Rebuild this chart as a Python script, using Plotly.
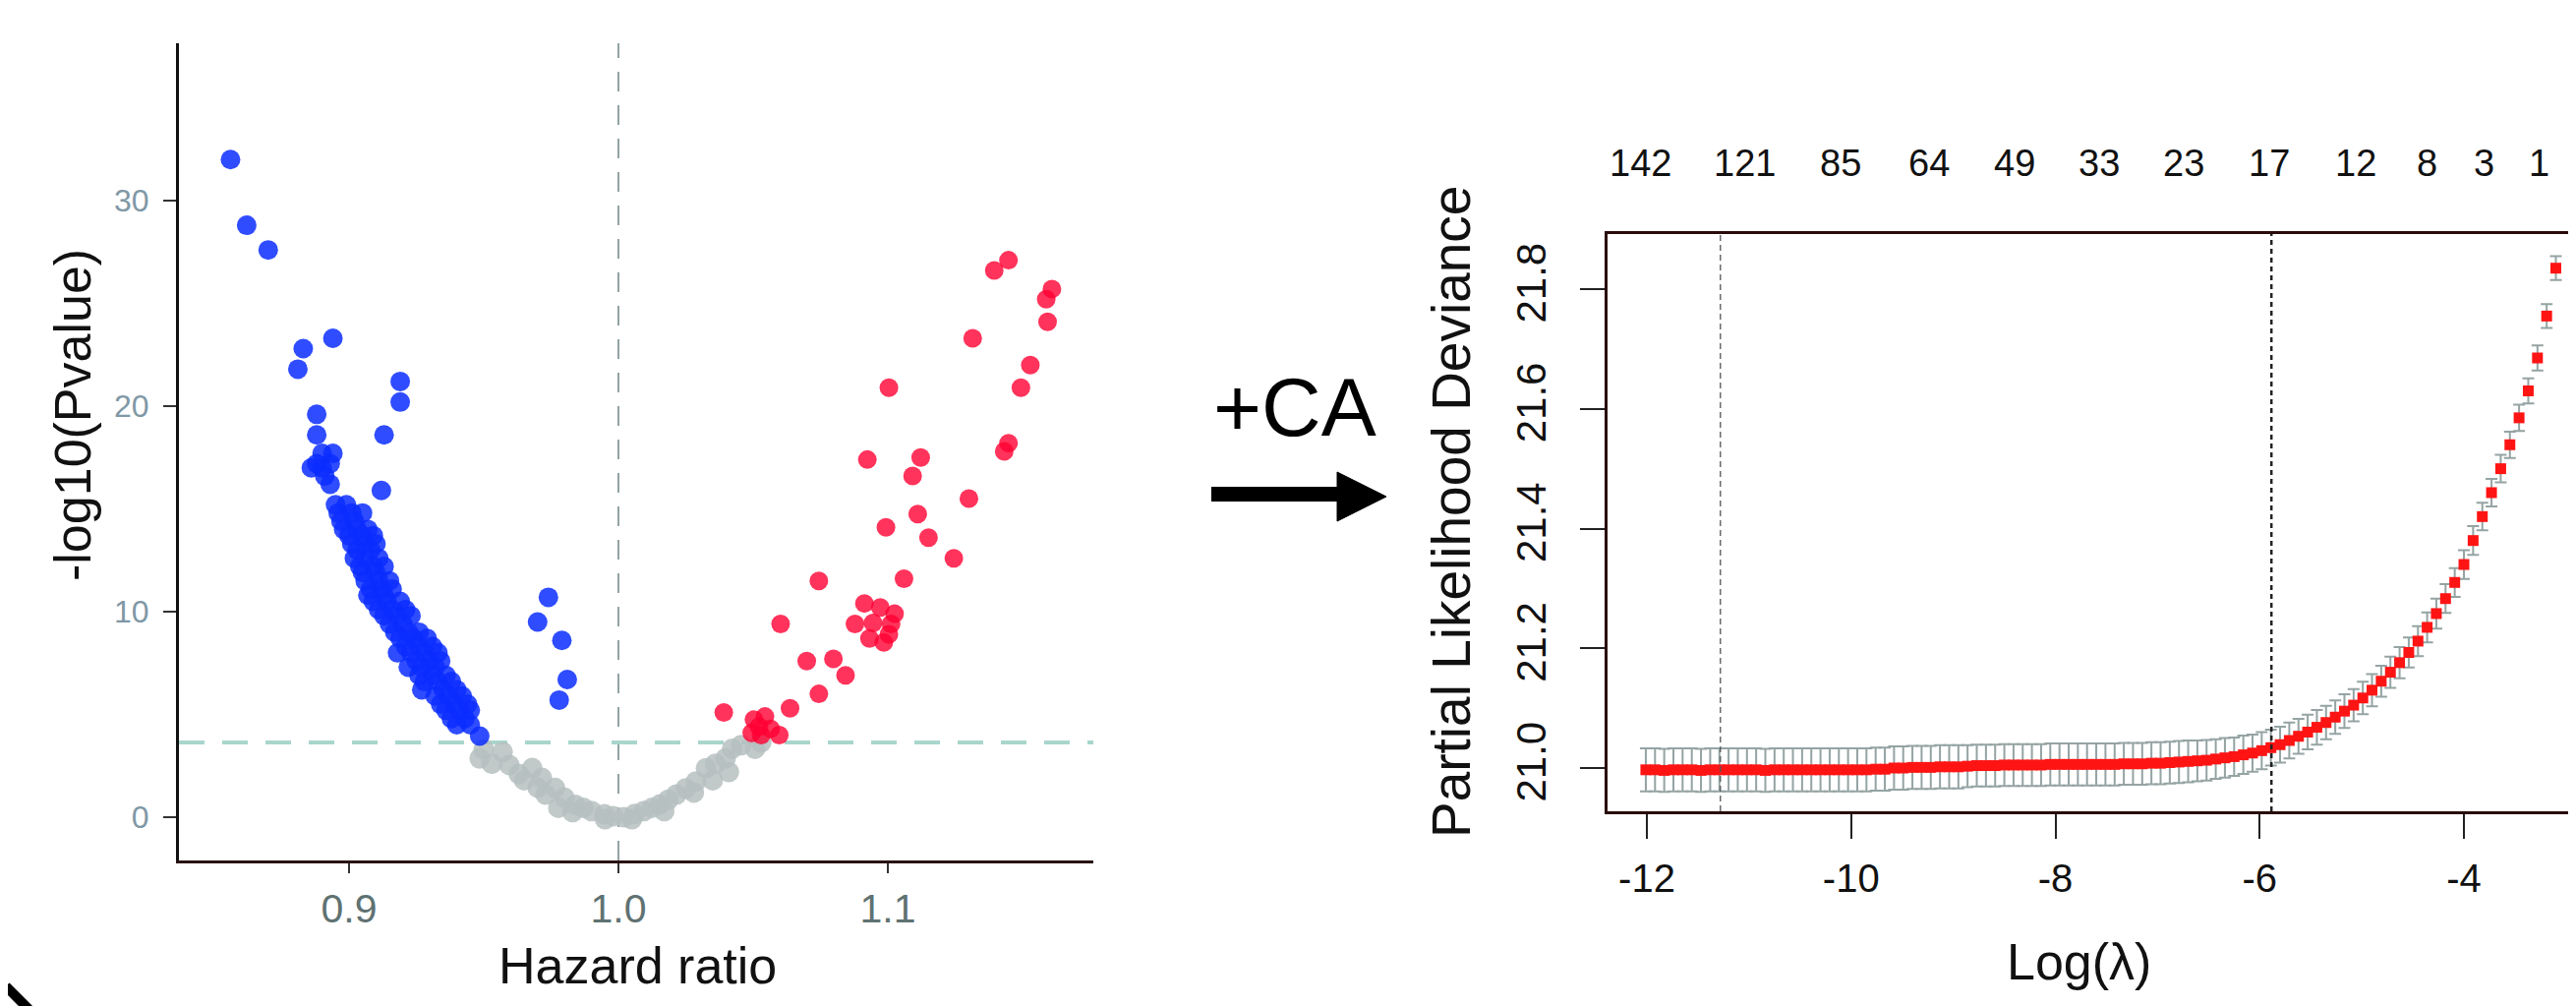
import plotly.graph_objects as go

W, H = 2620, 1023

# ---------------- Left: volcano plot data ----------------
blue_hr = [0.856, 0.862, 0.870, 0.883, 0.894, 0.881, 0.919, 0.919, 0.888, 0.888,
           0.913, 0.890, 0.894, 0.886, 0.890, 0.893, 0.891, 0.893, 0.888, 0.912,
           0.974, 0.970, 0.979, 0.981, 0.978, 0.9485,
           0.895, 0.899,
           0.896, 0.901, 0.905,
           0.897, 0.902,
           0.898, 0.903, 0.907,
           0.900, 0.905, 0.909,
           0.901, 0.906, 0.910,
           0.903, 0.908,
           0.902, 0.906, 0.911,
           0.904, 0.909, 0.913,
           0.905, 0.910,
           0.906, 0.911, 0.915,
           0.908, 0.912, 0.916,
           0.907, 0.913,
           0.909, 0.914, 0.919,
           0.911, 0.916, 0.921,
           0.913, 0.918, 0.923,
           0.915, 0.920,
           0.917, 0.922, 0.926,
           0.919, 0.924, 0.929,
           0.921, 0.926, 0.931,
           0.918, 0.923, 0.928, 0.933,
           0.925, 0.930, 0.934,
           0.922, 0.927, 0.932,
           0.926, 0.931, 0.936,
           0.928, 0.933, 0.938,
           0.927, 0.935, 0.940,
           0.932, 0.937, 0.942,
           0.934, 0.939, 0.944,
           0.936, 0.941, 0.945,
           0.938, 0.943,
           0.940, 0.945]
blue_p = [32.0, 28.8, 27.6, 22.8, 23.3, 21.8, 21.2, 20.2, 19.6, 18.6,
          18.6, 17.7, 17.7, 17.0, 17.0, 17.2, 16.6, 16.2, 17.2, 15.9,
          10.7, 9.5, 8.6, 6.7, 5.7, 3.95,
          15.2, 15.2,
          14.8, 14.8, 14.8,
          14.4, 14.4,
          14.0, 14.0, 14.0,
          13.7, 13.7, 13.7,
          13.3, 13.3, 13.3,
          13.0, 13.0,
          12.6, 12.6, 12.6,
          12.2, 12.2, 12.2,
          11.9, 11.9,
          11.5, 11.5, 11.5,
          11.1, 11.1, 11.1,
          10.8, 10.8,
          10.5, 10.5, 10.5,
          10.1, 10.1, 10.1,
          9.8, 9.8, 9.8,
          9.4, 9.4,
          9.0, 9.0, 9.0,
          8.7, 8.7, 8.7,
          8.3, 8.3, 8.3,
          8.0, 8.0, 8.0, 8.0,
          7.6, 7.6, 7.6,
          7.3, 7.3, 7.3,
          6.9, 6.9, 6.9,
          6.6, 6.6, 6.6,
          6.2, 6.2, 6.2,
          5.9, 5.9, 5.9,
          5.5, 5.5, 5.5,
          5.2, 5.2, 5.2,
          4.8, 4.8,
          4.5, 4.5]

red_hr = [1.1395, 1.1448, 1.1588, 1.1609, 1.1593, 1.1315, 1.1529, 1.1494, 1.1004, 1.1448,
          1.1432, 1.0924, 1.1122, 1.1092, 1.1301, 1.1111, 1.0993, 1.1151, 1.1245, 1.0744,
          1.1060, 1.0913, 1.0878, 1.0932, 1.0985, 1.1012, 1.1025, 1.0972, 1.1004, 1.0945,
          1.0602, 1.0699, 1.0798, 1.0843, 1.0744, 1.0391, 1.0637,
          1.0503, 1.0522, 1.0544, 1.0565, 1.0530, 1.0597, 1.0495]
red_p = [26.6, 27.1, 25.2, 25.7, 24.1, 23.3, 22.0, 20.9, 20.9, 18.2,
         17.8, 17.4, 17.5, 16.6, 15.5, 14.75, 14.1, 13.6, 12.6, 11.5,
         11.6, 10.4, 9.4, 8.7, 8.5, 9.4, 9.9, 10.2, 8.9, 9.45,
         9.4, 7.6, 7.7, 6.9, 6.0, 5.1, 5.3,
         4.75, 4.4, 4.9, 4.3, 4.0, 4.0, 4.1]

grey_hr = [0.950, 0.9485, 0.957, 0.9595, 0.963, 0.968, 0.970, 0.9716, 0.9765, 0.980,
           0.9777, 0.984, 0.987, 0.990, 0.9948, 0.998, 1.002, 1.006, 1.0094, 1.0125,
           1.0154, 1.0185, 1.0215, 1.025, 1.0288, 1.0325, 1.036, 1.0398, 1.041, 1.0422,
           1.0455, 1.0507, 1.053, 0.953, 0.965, 0.973, 0.983, 0.995, 1.005, 1.017,
           1.028, 1.035]
grey_p = [3.3, 2.86, 3.17, 2.54, 2.1, 2.39, 1.44, 1.91, 1.42, 0.94,
          0.46, 0.6, 0.45, 0.30, 0.14, 0.05, 0.0, 0.15, 0.3, 0.45,
          0.62, 0.85, 1.1, 1.4, 1.74, 2.38, 2.6, 2.86, 2.2, 3.33,
          3.5, 3.33, 3.65, 2.6, 1.8, 1.1, 0.25, -0.1, -0.1, 0.3,
          1.2, 1.8]

hr_ref = 1.0
p_threshold = 3.64
volcano_xticks = [0.9, 1.0, 1.1]
volcano_xtext = ["0.9", "1.0", "1.1"]
volcano_yticks = [0, 10, 20, 30]
volcano_ytext = ["0", "10", "20", "30"]

# ---------------- Right: cv.glmnet curve data ----------------
log_lambda = [-12.01, -11.92, -11.83, -11.74, -11.65, -11.56, -11.47, -11.38, -11.29, -11.20,
              -11.11, -11.02, -10.93, -10.84, -10.75, -10.66, -10.57, -10.48, -10.39, -10.30,
              -10.21, -10.12, -10.03, -9.94, -9.85, -9.76, -9.67, -9.58, -9.49, -9.40,
              -9.31, -9.22, -9.13, -9.04, -8.95, -8.86, -8.77, -8.68, -8.59, -8.50,
              -8.41, -8.32, -8.23, -8.14, -8.05, -7.96, -7.87, -7.78, -7.69, -7.60,
              -7.51, -7.42, -7.33, -7.24, -7.15, -7.06, -6.97, -6.88, -6.79, -6.70,
              -6.61, -6.52, -6.43, -6.34, -6.25, -6.16, -6.07, -5.98, -5.89, -5.80,
              -5.71, -5.62, -5.53, -5.44, -5.35, -5.26, -5.17, -5.08, -4.99, -4.90,
              -4.81, -4.72, -4.63, -4.54, -4.45, -4.36, -4.27, -4.18, -4.09, -4.00,
              -3.91, -3.82, -3.73, -3.64, -3.55, -3.46, -3.37, -3.28, -3.19, -3.10]
deviance = [20.997, 20.997, 20.996, 20.997, 20.997, 20.997, 20.996, 20.997, 20.997, 20.997,
            20.997, 20.997, 20.997, 20.996, 20.997, 20.997, 20.997, 20.997, 20.997, 20.997,
            20.997, 20.997, 20.997, 20.997, 20.997, 20.998, 20.998, 21.000, 21.000, 21.001,
            21.001, 21.001, 21.002, 21.002, 21.002, 21.003, 21.004, 21.004, 21.004, 21.005,
            21.005, 21.005, 21.005, 21.005, 21.006, 21.006, 21.006, 21.006, 21.006, 21.006,
            21.006, 21.006, 21.007, 21.007, 21.007, 21.008, 21.008, 21.009, 21.010, 21.011,
            21.012, 21.013, 21.015, 21.017, 21.019, 21.022, 21.025, 21.029, 21.034, 21.039,
            21.046, 21.053, 21.060, 21.068, 21.076, 21.085, 21.095, 21.105, 21.117, 21.130,
            21.145, 21.160, 21.176, 21.193, 21.212, 21.235, 21.258, 21.283, 21.310, 21.340,
            21.380, 21.420, 21.460, 21.500, 21.540, 21.585, 21.630, 21.685, 21.755, 21.835]
deviance_se = [0.036, 0.036, 0.036, 0.036, 0.036, 0.036, 0.036, 0.036, 0.036, 0.036,
               0.036, 0.036, 0.036, 0.036, 0.036, 0.036, 0.036, 0.036, 0.036, 0.036,
               0.036, 0.036, 0.036, 0.036, 0.036, 0.036, 0.036, 0.036, 0.036, 0.036,
               0.036, 0.036, 0.036, 0.036, 0.036, 0.035, 0.035, 0.035, 0.035, 0.035,
               0.035, 0.035, 0.035, 0.035, 0.035, 0.035, 0.035, 0.035, 0.035, 0.035,
               0.035, 0.035, 0.035, 0.035, 0.035, 0.035, 0.035, 0.035, 0.035, 0.035,
               0.034, 0.034, 0.033, 0.033, 0.032, 0.032, 0.031, 0.031, 0.030, 0.030,
               0.030, 0.029, 0.029, 0.029, 0.028, 0.028, 0.028, 0.027, 0.027, 0.027,
               0.026, 0.026, 0.026, 0.025, 0.025, 0.025, 0.025, 0.024, 0.024, 0.024,
               0.024, 0.023, 0.023, 0.023, 0.022, 0.022, 0.021, 0.021, 0.020, 0.020]

lambda_min = -11.28
lambda_1se = -5.885
nz_positions = [-12.06, -11.04, -10.10, -9.24, -8.40, -7.57, -6.74, -5.91, -5.06, -4.36, -3.80, -3.26]
nz_labels = ["142", "121", "85", "64", "49", "33", "23", "17", "12", "8", "3", "1"]
cv_xticks = [-12, -10, -8, -6, -4]
cv_xtext = ["-12", "-10", "-8", "-6", "-4"]
cv_yticks = [21.0, 21.2, 21.4, 21.6, 21.8]
cv_ytext = ["21.0", "21.2", "21.4", "21.6", "21.8"]

FONT = "Liberation Sans, Arial, Helvetica, sans-serif"

def px_x(p):
    return p / W

def px_y(p):
    return 1 - p / H

fig = go.Figure()

# volcano points
fig.add_trace(go.Scatter(x=grey_hr, y=grey_p, mode="markers", xaxis="x", yaxis="y",
                         marker=dict(size=21, color="rgba(182,192,192,0.85)", line=dict(width=0)),
                         showlegend=False, hoverinfo="skip"))
fig.add_trace(go.Scatter(x=blue_hr, y=blue_p, mode="markers", xaxis="x", yaxis="y",
                         marker=dict(size=20, color="rgba(10,45,255,0.85)", line=dict(width=0)),
                         showlegend=False, hoverinfo="skip"))
fig.add_trace(go.Scatter(x=red_hr, y=red_p, mode="markers", xaxis="x", yaxis="y",
                         marker=dict(size=19, color="rgba(255,0,50,0.8)", line=dict(width=0)),
                         showlegend=False, hoverinfo="skip"))

# cv curve
fig.add_trace(go.Scatter(x=log_lambda, y=deviance, mode="markers", xaxis="x2", yaxis="y2",
                         marker=dict(symbol="square", size=11, color="#ff1414", line=dict(width=0)),
                         error_y=dict(type="data", array=deviance_se, visible=True,
                                      color="#95a3a3", thickness=2, width=6),
                         showlegend=False, hoverinfo="skip"))

shapes = [
    # volcano reference lines
    dict(type="line", xref="x", yref="y domain", x0=hr_ref, x1=hr_ref, y0=0, y1=1,
         line=dict(color="#93a3a3", width=2, dash="20px,14px"), layer="below"),
    dict(type="line", xref="x domain", yref="y", x0=0, x1=1, y0=p_threshold, y1=p_threshold,
         line=dict(color="#a9d6cc", width=4, dash="26px,18px"), layer="below"),
    # cv vertical lines
    dict(type="line", xref="x2", yref="y2 domain", x0=lambda_min, x1=lambda_min, y0=0, y1=1,
         line=dict(color="#555555", width=1.3, dash="6px,4px")),
    dict(type="line", xref="x2", yref="y2 domain", x0=lambda_1se, x1=lambda_1se, y0=0, y1=1,
         line=dict(color="#222222", width=2.5, dash="5px,4px")),
    # arrow shaft and head
    dict(type="line", xref="paper", yref="paper", x0=px_x(1224), x1=px_x(1360),
         y0=px_y(494.5), y1=px_y(494.5), line=dict(color="black", width=15)),
    dict(type="path", xref="paper", yref="paper",
         path="M {} {} L {} {} L {} {} Z".format(px_x(1352), px_y(472), px_x(1402), px_y(497),
                                                px_x(1352), px_y(522)),
         fillcolor="black", line=dict(color="black", width=1)),
    # partial stroke at bottom-left corner
    dict(type="line", xref="paper", yref="paper", x0=px_x(-2), x1=px_x(28),
         y0=px_y(995), y1=px_y(1025), line=dict(color="black", width=10)),
]

annotations = [
    dict(text="-log10(Pvalue)", xref="paper", yref="paper", x=px_x(66), y=px_y(414),
         textangle=-90, showarrow=False, xanchor="center", yanchor="middle",
         font=dict(family=FONT, size=52, color="#111111")),
    dict(text="Hazard ratio", xref="paper", yref="paper", x=px_x(640), y=px_y(974),
         showarrow=False, xanchor="center", yanchor="middle",
         font=dict(family=FONT, size=52, color="#111111")),
    dict(text="+CA", xref="paper", yref="paper", x=px_x(1309), y=px_y(406),
         showarrow=False, xanchor="center", yanchor="middle",
         font=dict(family=FONT, size=84, color="#000000")),
    dict(text="Partial Likelihood Deviance", xref="paper", yref="paper", x=px_x(1468), y=px_y(512),
         textangle=-90, showarrow=False, xanchor="center", yanchor="middle",
         font=dict(family=FONT, size=55, color="#111111")),
    dict(text="Log(λ)", xref="paper", yref="paper", x=px_x(2106), y=px_y(970),
         showarrow=False, xanchor="center", yanchor="middle",
         font=dict(family=FONT, size=52, color="#111111")),
]
for pos, lab in zip(nz_positions, nz_labels):
    annotations.append(dict(text=lab, xref="x2", yref="paper", x=pos, y=px_y(158),
                            showarrow=False, xanchor="center", yanchor="middle",
                            font=dict(family=FONT, size=38, color="#111111")))

fig.update_layout(
    width=W, height=H,
    margin=dict(l=0, r=0, t=0, b=0),
    paper_bgcolor="white", plot_bgcolor="white",
    showlegend=False,
    shapes=shapes,
    annotations=annotations,
    xaxis=dict(domain=[px_x(174), px_x(1104)], range=[0.83686, 1.17628],
               tickmode="array", tickvals=volcano_xticks, ticktext=volcano_xtext,
               showgrid=False, zeroline=False, showline=True, linecolor="#2a1212", linewidth=3,
               ticks="outside", ticklen=10, tickwidth=2, tickcolor="#333333",
               ticklabelstandoff=1,
               tickfont=dict(family=FONT, size=41, color="#5f7272"), anchor="y"),
    yaxis=dict(domain=[px_y(867), px_y(36)], range=[-2.105, 37.656],
               tickmode="array", tickvals=volcano_yticks, ticktext=volcano_ytext,
               showgrid=False, zeroline=False, showline=True, linecolor="#111111", linewidth=3,
               ticks="outside", ticklen=13, tickwidth=2, tickcolor="#333333",
               ticklabelstandoff=8,
               tickfont=dict(family=FONT, size=32, color="#7f98a6"), anchor="x"),
    xaxis2=dict(domain=[px_x(1627), px_x(2618)], range=[-12.385, -2.845],
                tickmode="array", tickvals=cv_xticks, ticktext=cv_xtext,
                showgrid=False, zeroline=False, showline=True, linecolor="#2a0a0a", linewidth=3,
                mirror=True, ticks="outside", ticklen=25, tickwidth=2, tickcolor="#222222",
                ticklabelstandoff=6,
                tickfont=dict(family=FONT, size=40, color="#111111"), anchor="y2"),
    yaxis2=dict(domain=[px_y(817), px_y(230)], range=[20.9277, 21.892],
                tickmode="array", tickvals=cv_yticks, ticktext=cv_ytext, tickangle=-90,
                showgrid=False, zeroline=False, showline=True, linecolor="#2a0a0a", linewidth=3,
                mirror=True, ticks="outside", ticklen=25, tickwidth=2, tickcolor="#222222",
                ticklabelstandoff=18,
                tickfont=dict(family=FONT, size=42, color="#111111"), anchor="x2"),
)

fig.write_html("out.html")
